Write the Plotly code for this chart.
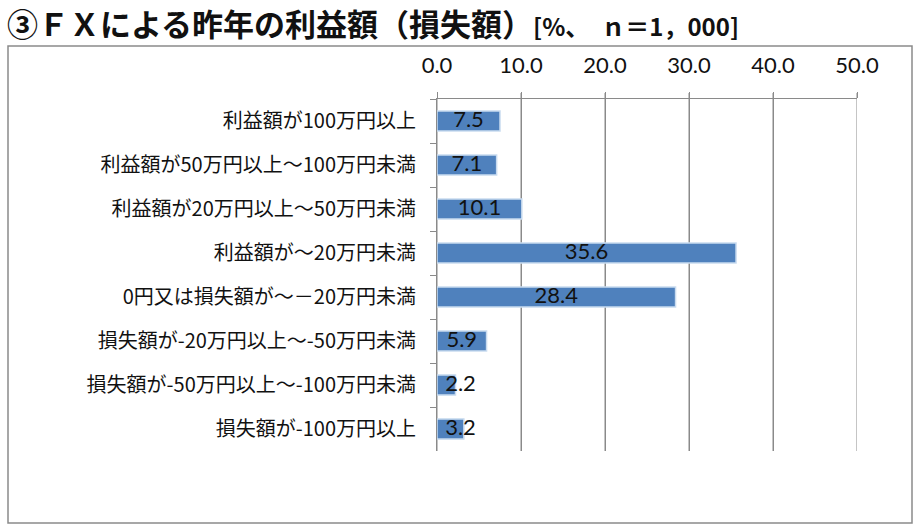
import plotly.graph_objs as go

# data
categories = [
    '利益額が100万円以上',
    '利益額が50万円以上～100万円未満',
    '利益額が20万円以上～50万円未満',
    '利益額が～20万円未満',
    '0円又は損失額が～－20万円未満',
    '損失額が-20万円以上～-50万円未満',
    '損失額が-50万円以上～-100万円未満',
    '損失額が-100万円以上',
]
values = [7.5, 7.1, 10.1, 35.6, 28.4, 5.9, 2.2, 3.2]
tick_vals = [0, 10, 20, 30, 40, 50]

title_main = '③ＦＸによる昨年の利益額（損失額）'
title_note = '[%、　ｎ＝1，000]'

# plot area in pixels (920x529 canvas)
L, R, T, B = 437, 857, 99, 451
PW, PH = R - L, B - T
GRID = '#8a8a8a'

# bars
bar_trace = go.Bar(
    x=values,
    y=categories,
    orientation='h',
    marker=dict(color='#4f81bd', line=dict(color='#c9dbef', width=1.5)),
    width=0.46,
    hoverinfo='x+y',
)

# labels centred on each bar, nudged right for the short ones
label_trace = go.Scatter(
    x=[max(v / 2, 2.8) for v in values],
    y=categories,
    mode='text',
    text=[f'{v:.1f}' for v in values],
    textposition='middle center',
    textfont=dict(family='Lato, Open Sans, sans-serif', size=22, color='#111'),
    hoverinfo='skip',
)

fig = go.Figure(data=[bar_trace, label_trace])

# vertical gridlines, drawn as shapes on the x scale (from just above the axis line down)
grid_shapes = [
    dict(type='line', xref='x', yref='paper', x0=tv, x1=tv, y0=0, y1=1 + 6 / PH,
         line=dict(color=GRID, width=1), layer='below')
    for tv in tick_vals
]

fig.update_layout(
    width=920,
    height=529,
    showlegend=False,
    plot_bgcolor='white',
    paper_bgcolor='white',
    margin=dict(l=L, r=920 - R, t=T, b=529 - B),
    font=dict(family='Noto Sans CJK JP', color='#111'),
    xaxis=dict(
        side='top',
        range=[0, 50],
        tickvals=tick_vals,
        tickformat='.1f',
        tickfont=dict(family='Lato, Open Sans, sans-serif', size=22, color='#111'),
        ticklabelstandoff=10,
        showgrid=True,
        gridcolor=GRID,
        showline=True,
        linecolor=GRID,
        ticks='outside',
        ticklen=6,
        tickcolor=GRID,
        zeroline=False,
        fixedrange=True,
    ),
    yaxis=dict(
        autorange='reversed',
        showline=True,
        linecolor=GRID,
        ticks='outside',
        tickson='boundaries',
        ticklen=6,
        tickcolor=GRID,
        tickfont=dict(family='Noto Sans CJK JP', size=20, color='#111'),
        ticklabelstandoff=16,
        fixedrange=True,
    ),
    shapes=grid_shapes + [
        # outer chart frame
        dict(type='rect', xref='paper', yref='paper',
             x0=(8 - L) / PW, x1=(912 - L) / PW,
             y0=(B - 523) / PH, y1=(B - 46) / PH,
             line=dict(color=GRID, width=1.5), layer='below'),
    ],
    annotations=[
        dict(
            xref='paper', yref='paper',
            x=(5 - L) / PW, y=(B + 2) / PH,
            xanchor='left', yanchor='top',
            showarrow=False,
            text=f'<b>{title_main}</b><b><span style="font-size:24px">{title_note}</span></b>',
            font=dict(family='Noto Sans CJK JP', size=31, color='#111'),
        ),
    ],
)

# drop the default page margin so the figure sits at the window origin
fig.write_html("out.html", config={'displayModeBar': False},
               post_script="document.body.style.margin='0';")
